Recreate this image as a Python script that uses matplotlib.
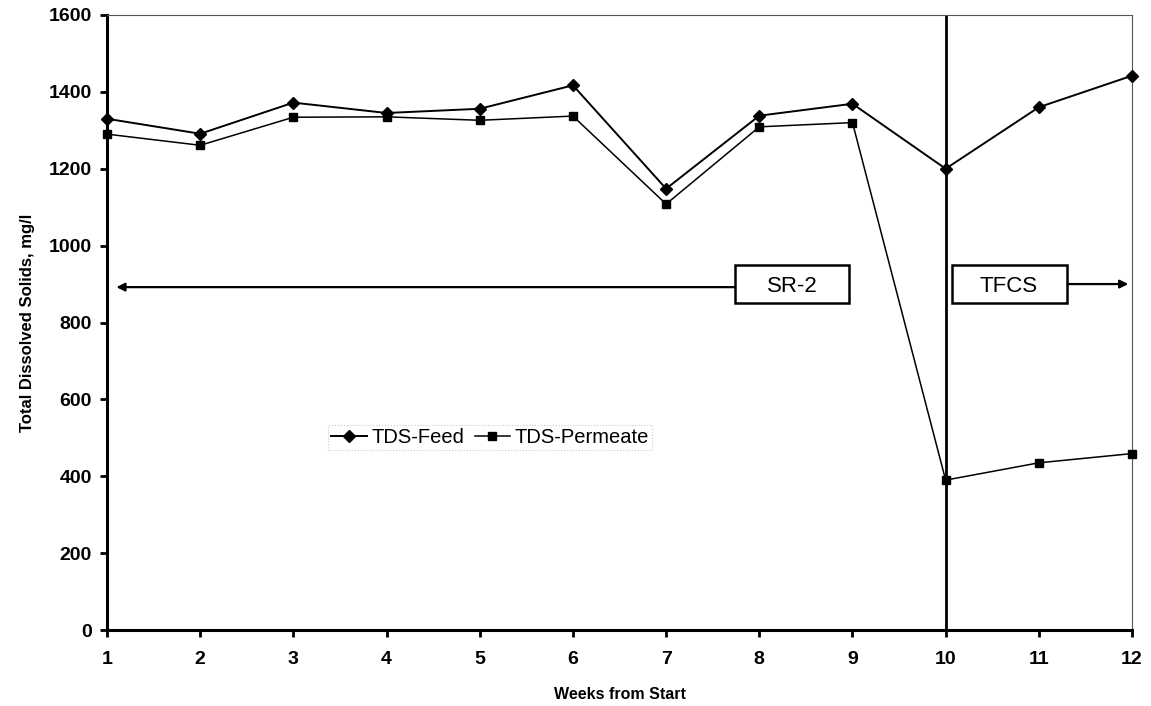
import matplotlib
matplotlib.use("Agg")
import matplotlib.pyplot as plt
from matplotlib.patches import Rectangle

plt.rcParams['font.family'] = ['Liberation Sans', 'DejaVu Sans']

weeks = [1, 2, 3, 4, 5, 6, 7, 8, 9, 10, 11, 12]
tds_feed = [1330, 1291, 1372, 1345, 1356, 1417, 1148, 1338, 1369, 1200, 1360, 1442]
tds_permeate = [1290, 1261, 1334, 1335, 1326, 1337, 1108, 1309, 1320, 390, 435, 459]
y_ticks = [0, 200, 400, 600, 800, 1000, 1200, 1400, 1600]

fig = plt.figure(figsize=(11.51, 7.06), dpi=100)
ax = fig.add_axes([0.093, 0.1076, 0.8905, 0.8712])

ax.plot(weeks, tds_feed, color='black', lw=1.4, marker='D', markersize=6,
        label='TDS-Feed', clip_on=False, zorder=3)
ax.plot(weeks, tds_permeate, color='black', lw=1.1, marker='s', markersize=6,
        label='TDS-Permeate', clip_on=False, zorder=3)

ax.set_xlim(1, 12)
ax.set_ylim(0, 1600)
ax.set_xticks(weeks)
ax.set_yticks(y_ticks)
ax.tick_params(axis='both', direction='out', length=5, width=2,
               labelsize=14, pad=6)
for lbl in ax.get_xticklabels() + ax.get_yticklabels():
    lbl.set_fontweight('bold')
ax.tick_params(axis='x', pad=10)

for side in ('left', 'bottom'):
    ax.spines[side].set_linewidth(2.2)
for side in ('top', 'right'):
    ax.spines[side].set_linewidth(0.8)
    ax.spines[side].set_color('#555555')

ax.set_xlabel('Weeks from Start', fontsize=11.5, fontweight='bold', labelpad=14)
ax.set_ylabel('Total Dissolved Solids, mg/l', fontsize=12, fontweight='bold',
              labelpad=10)

# membrane change at week 10
ax.axvline(10, color='black', lw=2)

# membrane period labels with arrows
box_y0, box_y1 = 851, 949
ax.add_patch(Rectangle((7.74, box_y0), 8.96 - 7.74, box_y1 - box_y0,
                       fill=True, facecolor='white', edgecolor='black', lw=1.8,
                       zorder=4))
ax.text(8.35, 900, 'SR-2', ha='center', va='center_baseline', fontsize=16,
        zorder=5)
ax.annotate('', xy=(1.1, 892), xytext=(7.74, 892),
            arrowprops=dict(arrowstyle='-|>', color='black', lw=1.6,
                            mutation_scale=12, shrinkA=0, shrinkB=0))

ax.add_patch(Rectangle((10.07, box_y0), 11.30 - 10.07, box_y1 - box_y0,
                       fill=True, facecolor='white', edgecolor='black', lw=1.8,
                       zorder=4))
ax.text(10.68, 900, 'TFCS', ha='center', va='center_baseline', fontsize=16,
        zorder=5)
ax.annotate('', xy=(11.96, 900), xytext=(11.30, 900),
            arrowprops=dict(arrowstyle='-|>', color='black', lw=1.6,
                            mutation_scale=12, shrinkA=0, shrinkB=0))

leg = ax.legend(loc='center', bbox_to_anchor=(0.374, 0.313), ncol=2,
                fontsize=14.5, frameon=True, fancybox=False,
                handlelength=1.75, handletextpad=0.25, columnspacing=0.5,
                borderpad=0.15, borderaxespad=0)
leg.get_frame().set_edgecolor('#bbbbbb')
leg.get_frame().set_linestyle(':')
leg.get_frame().set_linewidth(0.8)

fig.savefig('out.png', dpi=100)
